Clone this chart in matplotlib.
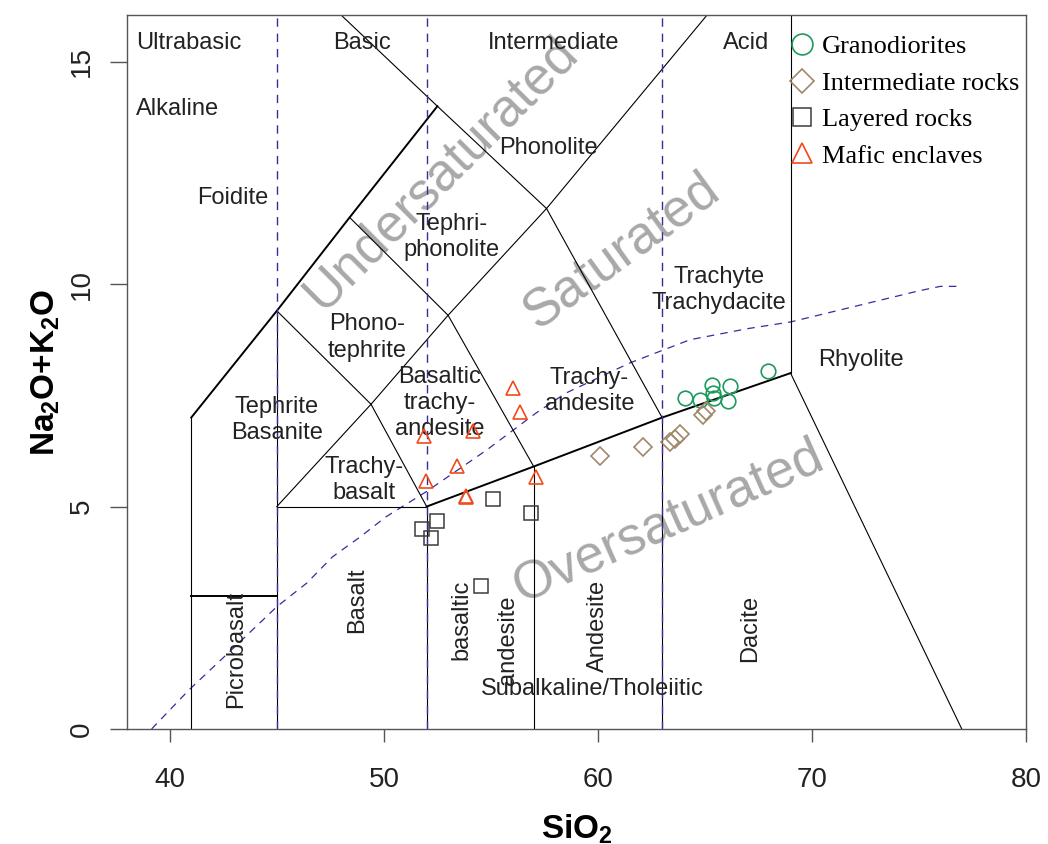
import matplotlib
matplotlib.use("Agg")
import matplotlib.pyplot as plt
from matplotlib.lines import Line2D

plt.rcParams["mathtext.default"] = "regular"

# ---- sample data (SiO2 wt%, Na2O+K2O wt%) ----
grano_sio2 = [67.95, 65.33, 66.18, 64.06, 64.79, 65.36, 65.42, 66.06]
grano_alk = [8.05, 7.74, 7.70, 7.44, 7.40, 7.55, 7.44, 7.38]

inter_sio2 = [60.1, 62.1, 63.35, 63.85, 63.6, 64.9, 65.05]
inter_alk = [6.13, 6.35, 6.45, 6.62, 6.52, 7.06, 7.15]

layer_sio2 = [55.08, 56.88, 52.5, 51.77, 52.2, 54.53]
layer_alk = [5.17, 4.86, 4.68, 4.49, 4.29, 3.22]

mafic_sio2 = [56.03, 56.34, 51.86, 54.16, 53.43, 51.95, 57.12, 53.82, 53.86]
mafic_alk = [7.66, 7.12, 6.59, 6.70, 5.91, 5.58, 5.67, 5.24, 5.22]

# ---- TAS field boundaries ----
tas_lines = [
    ([41, 41], [0, 7]),
    ([41, 45, 48.4, 52.5], [7, 9.4, 11.5, 14]),
    ([48, 52.5, 57.6, 63], [16.05, 14, 11.7, 7]),
    ([57.6, 65.1], [11.7, 16.05]),
    ([41, 45], [3, 3]),
    ([45, 45], [0, 9.4]),
    ([45, 52], [5, 5]),
    ([52, 52], [0, 5]),
    ([57, 57], [0, 5.9]),
    ([63, 63], [0, 7]),
    ([52, 57, 63, 69], [5, 5.9, 7, 8]),
    ([69, 69], [8, 16.05]),
    ([69, 77], [8, 0]),
    ([45, 49.4, 52], [5, 7.3, 5]),
    ([45, 49.4], [9.4, 7.3]),
    ([49.4, 53, 57], [7.3, 9.3, 5.9]),
    ([48.4, 53, 57.6], [11.5, 9.3, 11.7]),
]
thick_lines = {1, 4, 10}

# Irvine & Baragar alkaline / subalkaline divide
alk_div_sio2 = [39.15, 40.9, 42.8, 45.0, 46.4, 47.6, 48.9, 50.1, 52.0, 54.8,
                57.1, 58.5, 61.5, 64.3, 67.0, 69.0, 72.0, 75.0, 76.0, 77.0]
alk_div_alk = [0.0, 0.88, 1.74, 2.75, 3.28, 3.87, 4.32, 4.77, 5.34, 6.27,
               7.1, 7.55, 8.23, 8.75, 9.0, 9.15, 9.5, 9.85, 9.95, 9.95]

# silica saturation class dividers
class_divs = [45, 52, 63]

x_ticks = [40, 50, 60, 70, 80]
y_ticks = [0, 5, 10, 15]

SANS = "Liberation Sans"
SERIF = "Liberation Serif"
PURPLE = "#3b2a9e"

fig = plt.figure(figsize=(10.48, 8.44), dpi=100)
ax = fig.add_axes([0.1212, 0.1363, 0.8578, 0.8459])
ax.set_xlim(38, 80)
ax.set_ylim(0, 16.05)

for xv in class_divs:
    ax.plot([xv, xv], [0, 16.05], color=PURPLE, lw=1.0, ls=(0, (6, 5)), zorder=2.5)
ax.plot(alk_div_sio2, alk_div_alk, color=PURPLE, lw=0.9, ls=(0, (6, 5)), zorder=1)

for i, (xs, ys) in enumerate(tas_lines):
    ax.plot(xs, ys, color="black", lw=1.4 if i in thick_lines else 0.8, zorder=2)

# big saturation words
big = dict(color="#a8a8a8", fontsize=38, family=SANS, ha="center", va="center", zorder=1.5)
ax.text(52.7, 12.5, "Undersaturated", rotation=45, **big)
ax.text(61.1, 10.75, "Saturated", rotation=36, **big)
ax.text(63.3, 4.65, "Oversaturated", rotation=24, **big)

lab = dict(fontsize=17, family=SANS, color="#222222", ha="center", va="center",
           linespacing=1.25, zorder=3)
ax.text(38.42, 15.42, "Ultrabasic", **{**lab, "ha": "left"})
ax.text(48.97, 15.42, "Basic", **lab)
ax.text(57.93, 15.42, "Intermediate", **lab)
ax.text(66.93, 15.42, "Acid", **lab)
ax.text(38.42, 13.93, "Alkaline", **{**lab, "ha": "left"})
ax.text(42.95, 11.93, "Foidite", **lab)
ax.text(57.69, 13.05, "Phonolite", **lab)
ax.text(53.17, 11.06, "Tephri-\nphonolite", **lab)
ax.text(49.2, 8.8, "Phono-\ntephrite", **lab)
ax.text(45.0, 6.95, "Tephrite\nBasanite", **lab)
ax.text(52.6, 7.33, "Basaltic\ntrachy-\nandesite", **lab)
ax.text(59.6, 7.6, "Trachy-\nandesite", **lab)
ax.text(49.06, 5.6, "Trachy-\nbasalt", **lab)
ax.text(65.67, 9.87, "Trachyte\nTrachydacite", **lab)
ax.text(72.3, 8.3, "Rhyolite", **lab)
ax.text(59.75, 0.9, "Subalkaline/Tholeiitic", **lab)
ax.text(48.73, 2.9, "Basalt", rotation=90, **lab)
ax.text(43.09, 1.78, "Picrobasalt", rotation=90, **lab)
ax.text(59.98, 2.32, "Andesite", rotation=90, **lab)
ax.text(67.12, 2.27, "Dacite", rotation=90, **lab)
ax.text(53.63, 2.45, "basaltic", rotation=90, **lab)
ax.text(55.78, 2.0, "andesite", rotation=90, **lab)

# samples
GREEN, BROWN, DARK, RED = "#1d9a5c", "#a08868", "#3c3c3c", "#f04a1a"
ax.plot(grano_sio2, grano_alk, ls="none", marker="o", ms=10.5, mfc="none",
        mec=GREEN, mew=1.2, zorder=4)
ax.plot(inter_sio2, inter_alk, ls="none", marker="D", ms=9, mfc="none",
        mec=BROWN, mew=1.2, zorder=4)
ax.plot(layer_sio2, layer_alk, ls="none", marker="s", ms=10, mfc="none",
        mec=DARK, mew=1.1, zorder=4)
ax.plot(mafic_sio2, mafic_alk, ls="none", marker="^", ms=10.5, mfc="none",
        mec=RED, mew=1.2, zorder=4)

handles = [
    Line2D([], [], ls="none", marker="o", ms=15, mfc="none", mec=GREEN, mew=1.2),
    Line2D([], [], ls="none", marker="D", ms=12, mfc="none", mec=BROWN, mew=1.2),
    Line2D([], [], ls="none", marker="s", ms=13, mfc="none", mec=DARK, mew=1.1),
    Line2D([], [], ls="none", marker="^", ms=15, mfc="none", mec=RED, mew=1.2),
]
labels = ["Granodiorites", "Intermediate rocks", "Layered rocks", "Mafic enclaves"]
ax.legend(handles, labels, loc="upper left", bbox_to_anchor=(0.7375, 0.972),
          frameon=False, prop={"family": SERIF, "size": 19},
          handlelength=0.9, handletextpad=0.3, labelspacing=0.49,
          borderaxespad=0, borderpad=0)

# axes styling
for sp in ax.spines.values():
    sp.set_color("#555555")
    sp.set_linewidth(1.0)
ax.set_xticks(x_ticks)
ax.set_yticks(y_ticks)
ax.tick_params(axis="x", direction="out", length=9.5, width=1, color="#555555",
               pad=18, labelsize=20, labelcolor="#222222")
ax.tick_params(axis="y", direction="out", length=12, width=1, color="#555555",
               pad=11, labelsize=20, labelcolor="#222222")
for t in ax.get_xticklabels() + ax.get_yticklabels():
    t.set_family(SANS)
for t in ax.get_yticklabels():
    t.set_rotation(90)
    t.set_va("center")

ax.set_xlabel("SiO$_2$", fontsize=24, fontweight="bold", family=SANS, labelpad=14)
ax.set_ylabel("Na$_2$O+K$_2$O", fontsize=24, fontweight="bold", family=SANS, labelpad=5)

fig.savefig("out.png", dpi=100)
